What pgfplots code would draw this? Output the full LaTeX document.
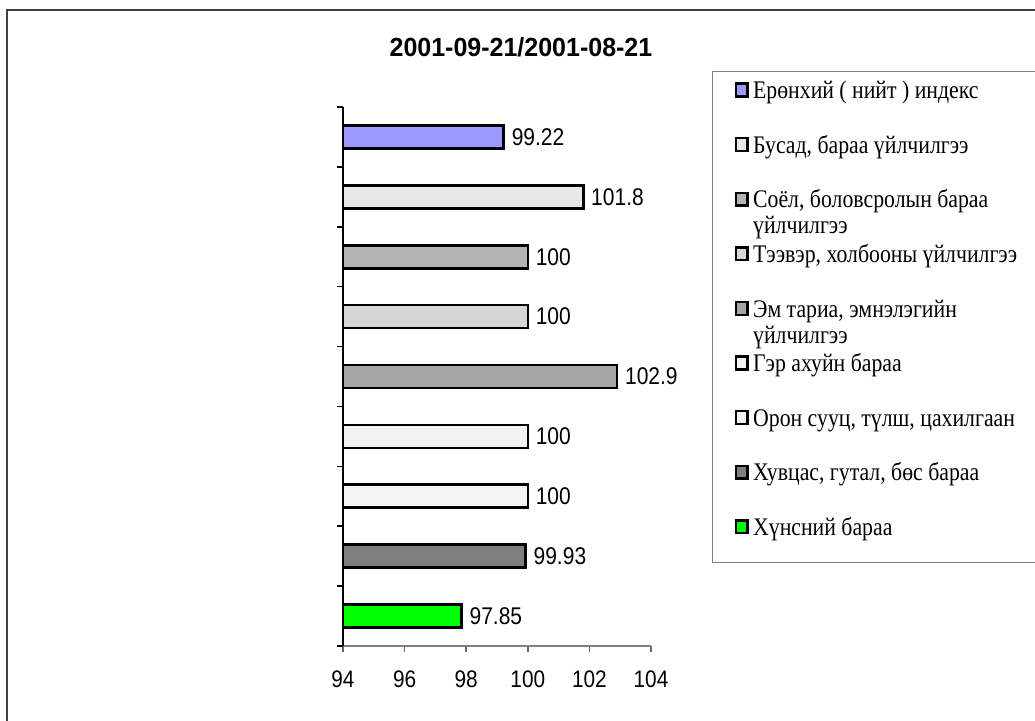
\documentclass[border=0pt]{standalone}
\usepackage{pgfplots}
\pgfplotsset{compat=1.18}
\usepackage{fontspec}
\usepackage{graphicx}
\setmainfont{Liberation Serif}
\newfontfamily\arial{Liberation Sans}
\definecolor{cIdx}{HTML}{9999FF}
\definecolor{cBus}{HTML}{E8E8E8}
\definecolor{cSoel}{HTML}{B3B3B3}
\definecolor{cTee}{HTML}{D6D6D6}
\definecolor{cEm}{HTML}{A6A6A6}
\definecolor{cGer}{HTML}{F2F2F2}
\definecolor{cOron}{HTML}{F4F4F4}
\definecolor{cHuv}{HTML}{7F7F7F}
\definecolor{cHun}{HTML}{00FF00}
\newcommand\vs[1]{\scalebox{1}[1.15]{#1}}
\newcommand\leg[1]{\makebox[140pt][l]{\rule[-12pt]{0pt}{24pt}\smash{\scalebox{0.99}[1.15]{\fontsize{11}{11.3}\selectfont\begin{tabular}[t]{@{}l@{}}#1\end{tabular}}}}}
\begin{document}
\begin{tikzpicture}
\useasboundingbox (0,0) rectangle (517.5pt,360.5pt);
\draw[black!75, line width=1pt] (3.4pt,355.5pt) rectangle (530pt,-10pt);
\node[font=\arial\bfseries\fontsize{12.5}{14}\selectfont, anchor=base] at (260.5pt,332pt) {\scalebox{1}[1.05]{2001-09-21/2001-08-21}};
\begin{axis}[
  at={(171.5pt,37.5pt)}, anchor=south west,
  scale only axis, width=154pt, height=269.5pt,
  xmin=94, xmax=104, ymin=-0.5, ymax=8.5,
  enlargelimits=false,
  axis x line*=bottom, axis y line*=left,
  x axis line style={draw=black!50, line width=1pt, -},
  y axis line style={draw=black, line width=0.8pt, -},
  xtick={94,96,...,104},
  ytick={-0.5,0.5,...,8.5}, yticklabels={},
  tick align=outside, major tick length=3pt,
  x tick style={draw=black!60, line width=0.8pt},
  y tick style={draw=black, line width=0.8pt},
  /pgf/number format/assume math mode=true,
  xticklabel={\vs{\pgfmathprintnumber{\tick}}},
  xticklabel style={font=\arial\fontsize{10.4}{12}\selectfont, yshift=-6pt},
  mybar/.style={xbar, bar width=11.5pt, bar shift=0pt, draw=black, line width=1.3pt,
     point meta=x, nodes near coords={\vs{\pgfmathprintnumber{\pgfplotspointmeta}}},
     nodes near coords align={horizontal},
     every node near coord/.append style={font=\arial\fontsize{10.5}{12}\selectfont, inner sep=0pt, anchor=west, xshift=4pt, black, line width=0pt}},
  legend cell align=left,
  legend image code/.code={\draw[#1, line width=1.2pt] (0.6pt,1.2pt) rectangle (6.4pt,7.6pt);},
  legend style={at={(1.198,1.0668)}, anchor=north west, draw=black!50, line width=0.75pt,
     inner xsep=11pt, inner ysep=1.5pt, row sep=3.3pt, column sep=2.2pt,
     nodes={inner sep=0pt, text depth=, text height=}},
]
\addplot[mybar, fill=cIdx] coordinates {(99.22,8)};
\addlegendentry{\leg{Ерөнхий ( нийт ) индекс}}
\addplot[mybar, fill=cBus] coordinates {(101.8,7)};
\addlegendentry{\leg{Бусад, бараа үйлчилгээ}}
\addplot[mybar, fill=cSoel] coordinates {(100,6)};
\addlegendentry{\leg{Соёл, боловсролын бараа\\үйлчилгээ}}
\addplot[mybar, fill=cTee] coordinates {(100,5)};
\addlegendentry{\leg{Тээвэр, холбооны үйлчилгээ}}
\addplot[mybar, fill=cEm] coordinates {(102.9,4)};
\addlegendentry{\leg{Эм тариа, эмнэлэгийн\\үйлчилгээ}}
\addplot[mybar, fill=cGer] coordinates {(100,3)};
\addlegendentry{\leg{Гэр ахуйн бараа}}
\addplot[mybar, fill=cOron] coordinates {(100,2)};
\addlegendentry{\leg{Орон сууц, түлш, цахилгаан}}
\addplot[mybar, fill=cHuv] coordinates {(99.93,1)};
\addlegendentry{\leg{Хувцас, гутал, бөс бараа}}
\addplot[mybar, fill=cHun] coordinates {(97.85,0)};
\addlegendentry{\leg{Хүнсний бараа}}
\end{axis}
\end{tikzpicture}
\end{document}
